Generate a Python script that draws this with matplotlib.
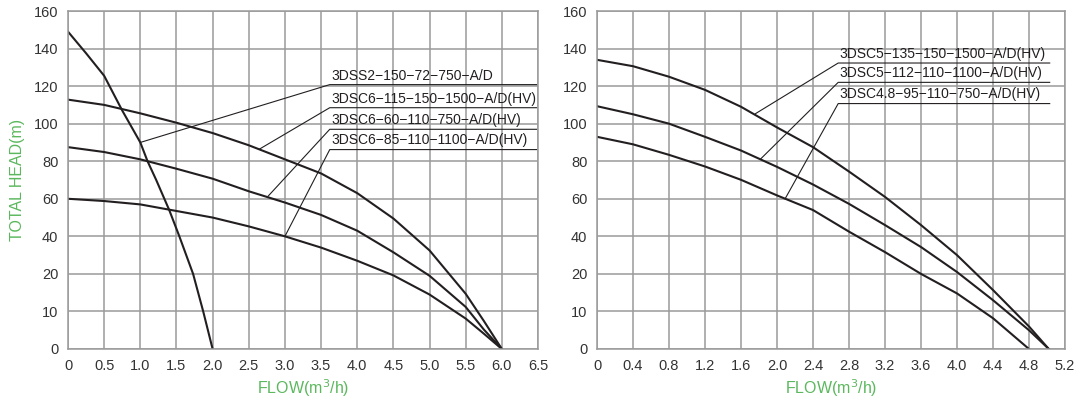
import numpy as np
import matplotlib
matplotlib.use("Agg")
import matplotlib.pyplot as plt

plt.rcParams['font.family'] = ['Liberation Sans', 'DejaVu Sans']

# ---- data: left chart (flow m3/h, head m) ----
flow_a = [0, 0.25, 0.5, 0.75, 1.0, 1.1, 1.22, 1.4, 1.54, 1.73, 1.87, 2.0]
head_a = [149, 137.5, 125.5, 107, 90, 80, 70, 54, 40, 20, 10, 0]

flow_left = [0, 0.5, 1.0, 1.5, 2.0, 2.5, 3.0, 3.5, 4.0, 4.5, 5.0, 5.5, 5.75, 6.0]
head_b = [112.8, 110, 105.5, 100.5, 95, 88.5, 81, 73.5, 63, 49.5, 32.5, 14.7, 7.5, 0]
head_c = [87.5, 84.9, 81, 76, 70.7, 64, 58, 51.4, 43, 31.5, 19.5, 11.2, 5.2, 0]
head_d = [60, 58.8, 57, 53.5, 50, 45.3, 40, 34, 27, 19.6, 14.5, 8.1, 4.1, 0]

left_labels = ["3DSS2−150−72−750−A/D",
               "3DSC6−115−150−1500−A/D(HV)",
               "3DSC6−60−110−750−A/D(HV)",
               "3DSC6−85−110−1100−A/D(HV)"]

# ---- data: right chart ----
flow_right = [0, 0.4, 0.8, 1.2, 1.6, 2.0, 2.4, 2.8, 3.2, 3.6, 4.0, 4.4, 4.8, 5.02]
head_r1 = [134, 130.6, 125, 118, 109, 98, 87.5, 74.5, 61, 46, 30, 15.7, 6, 0]
head_r2 = [109.3, 105, 100, 93, 85.7, 77, 67.6, 57.3, 46, 34.3, 21, 13, 5, 0]
flow_r3 = [0, 0.4, 0.8, 1.2, 1.6, 2.0, 2.4, 2.8, 3.2, 3.6, 4.0, 4.4, 4.8]
head_r3 = [93, 89, 83.4, 77.2, 70.1, 61.8, 54, 42.5, 31.6, 20, 14.8, 8.2, 0]

right_labels = ["3DSC5−135−150−1500−A/D(HV)",
                "3DSC5−112−110−1100−A/D(HV)",
                "3DSC4.8−95−110−750−A/D(HV)"]

y_ticks = [0, 10, 20, 40, 60, 80, 100, 120, 140, 160]
left_xticks = [0, 0.5, 1.0, 1.5, 2.0, 2.5, 3.0, 3.5, 4.0, 4.5, 5.0, 5.5, 6.0, 6.5]
left_xlabels = ["0", "0.5", "1.0", "1.5", "2.0", "2.5", "3.0", "3.5", "4.0",
                "4.5", "5.0", "5.5", "6.0", "6.5"]
right_xticks = [0, 0.4, 0.8, 1.2, 1.6, 2.0, 2.4, 2.8, 3.2, 3.6, 4.0, 4.4, 4.8, 5.2]
right_xlabels = ["0", "0.4", "0.8", "1.2", "1.6", "2.0", "2.4", "2.8", "3.2",
                 "3.6", "4.0", "4.4", "4.8", "5.2"]


# head axis: 0-20 step 10, then 20-160 step 20, all evenly spaced
def fwd(y):
    y = np.asarray(y, dtype=float)
    return np.where(y <= 20, y / 10.0, 2 + (y - 20) / 20.0)


def inv(t):
    t = np.asarray(t, dtype=float)
    return np.where(t <= 2, t * 10.0, 20 + (t - 2) * 20.0)


INK = "#231f20"
GRID = "#9a9a9a"
GREEN = "#5bb85d"
TICK = "#333333"

fig = plt.figure(figsize=(10.86, 3.97), dpi=100)
ax1 = fig.add_axes([68 / 1086, 1 - 349 / 397, (538 - 68) / 1086, (349 - 11) / 397])
ax2 = fig.add_axes([597 / 1086, 1 - 349 / 397, (1065 - 597) / 1086, (349 - 11) / 397])


def style(ax, xticks, xlabels, xmax):
    ax.set_yscale('function', functions=(fwd, inv))
    ax.set_ylim(0, 160)
    ax.set_xlim(0, xmax)
    ax.set_yticks(y_ticks)
    ax.set_yticklabels([str(v) for v in y_ticks])
    ax.yaxis.set_minor_locator(matplotlib.ticker.NullLocator())
    ax.set_xticks(xticks)
    ax.set_xticklabels(xlabels)
    ax.grid(True, color=GRID, linewidth=1.1)
    ax.set_axisbelow(True)
    for s in ax.spines.values():
        s.set_color(GRID)
        s.set_linewidth(1.1)
    ax.tick_params(length=0, labelsize=10.5, colors=TICK, pad=7)
    ax.set_xlabel("FLOW(m$^3$/h)", color=GREEN, fontsize=11.5, labelpad=3)


style(ax1, left_xticks, left_xlabels, 6.5)
style(ax2, right_xticks, right_xlabels, 5.2)
ax1.set_ylabel("TOTAL HEAD(m)", color=GREEN, fontsize=11.5, labelpad=6)

# curves
ax1.plot(flow_a, head_a, color=INK, lw=1.5)
ax1.plot(flow_left, head_b, color=INK, lw=1.5)
ax1.plot(flow_left, head_c, color=INK, lw=1.5)
ax1.plot(flow_left, head_d, color=INK, lw=1.5)

ax2.plot(flow_right, head_r1, color=INK, lw=1.5)
ax2.plot(flow_right, head_r2, color=INK, lw=1.5)
ax2.plot(flow_r3, head_r3, color=INK, lw=1.5)


def callout(ax, label, point, x0, x1, yline):
    ax.plot([point[0], x0, x1], [point[1], yline, yline], color=INK, lw=0.8)
    ax.annotate(label, xy=(x0, yline), xytext=(1, 1.5), textcoords='offset points',
                ha='left', va='bottom', fontsize=10, color=INK)


# left callouts (leader to a point on each curve)
callout(ax1, left_labels[0], (flow_a[4], head_a[4]), 3.62, 6.48, 120.8)
callout(ax1, left_labels[1], (2.65, 86.5), 3.62, 6.48, 108.5)
callout(ax1, left_labels[2], (2.77, 61.5), 3.62, 6.48, 97)
callout(ax1, left_labels[3], (flow_left[6], head_d[6]), 3.62, 6.48, 86.2)

# right callouts
callout(ax2, right_labels[0], (1.76, 105.3), 2.68, 5.03, 132.3)
callout(ax2, right_labels[1], (1.82, 81.3), 2.68, 5.03, 122)
callout(ax2, right_labels[2], (2.09, 60), 2.68, 5.03, 110.7)

fig.savefig("out.png", dpi=100)
